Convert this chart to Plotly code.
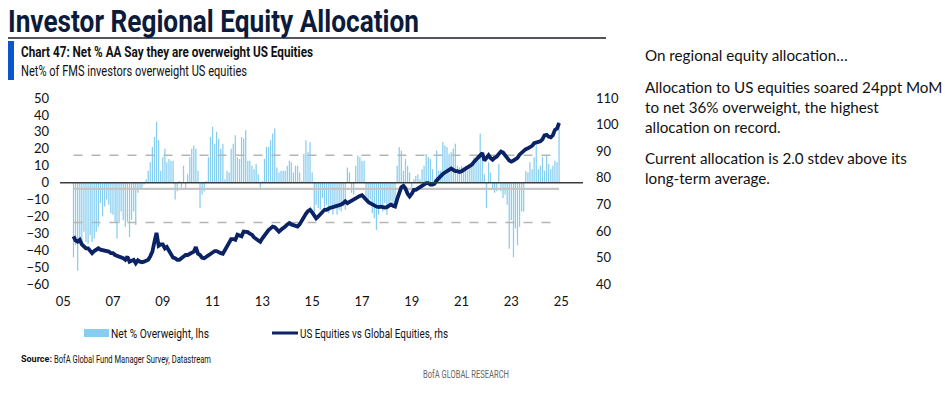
import json
import pandas as pd
import plotly.graph_objects as go

# ---------------- data ----------------
start_month = "2005-06-01"
n_months = 235
dates = pd.date_range(start_month, periods=n_months, freq="MS")

# Net % of FMS investors overweight US equities (lhs), monthly Jun-2005 .. Dec-2024
net_overweight = [
    -44, -37, -52, -34, -38, -29, -35,                      # 2005
    -36, -31, -35, -33, -29, -26, -12, -20, -14, -10, -13, -18,  # 2006
    -19, -23, -33, -24, -17, -22, -26, -23, -32, -22, -17, -25,  # 2007
    -6, -4, -3, -1, 2, 7, 12, 21, 27, 36, 25, 7,            # 2008
    15, 20, 12, 14, 13, 13, -10, -5, 1, -3, 10, -4,         # 2009
    5, 15, 20, 22, 20, 7, -15, -7, -5, 1, 15, 27,           # 2010
    33, 23, 30, 26, 20, 23, 2, 7, 6, 20, 23, 28,            # 2011
    15, 14, 27, 26, 31, 13, 13, 10, 8, 11, 5, -3,           # 2012
    1, 14, 21, 21, 25, 29, 32, 9, 6, 7, 7, 7,               # 2013
    10, 13, 12, 6, 10, 10, 6, 1, 17, 25, 18, 24,            # 2014
    6, -18, -13, -15, -16, -9, -15, -13, -18, -13, -19, -15,  # 2015
    -19, -16, -17, -14, -16, 9, 6, -6, -7, 10, 16, 15,      # 2016
    13, 13, -10, -13, -10, -18, -21, -28, -19, -13, -17, -12,  # 2017
    -19, -14, -11, -15, -13, 10, 21, 19, 7, 14, 10, 6,      # 2018
    -3, 2, 4, 5, 2, 8, 10, 17, 15, 14, 8, 2,                # 2019
    19, 7, 7, 24, 22, 21, 17, 18, 20, 23, 10, 9,            # 2020
    10, 9, 10, 7, 10, 12, 15, 14, 13, 29, 13, 5,            # 2021
    -15, 12, 6, -4, -6, -5, 11, -5, -9, -7, -13, -39,       # 2022
    -22, -44, -27, -37, -26, -17, -17, 7, 6, 12, 8, 15,     # 2023
    22, 8, 10, 15, 7, 16, 11, 8, 10, 13, 12, 36,            # 2024
]

# US equities vs global equities relative index (rhs)
us_vs_global = [
    58, 56.5, 56, 56.7, 55, 54.2, 53.5,
    53.5, 52.5, 51.7, 52.5, 53, 53.5, 53, 52.9, 52.5, 52.5, 52.3, 51.7,
    51.7, 51, 50.8, 50.4, 50, 49.8, 49.2, 50.4, 48.5, 48.8, 49.2, 47.9,
    49, 48.5, 48.3, 48.5, 49, 49.2, 50.5, 52.3, 56, 59.3, 54.5, 55,
    55, 53.5, 54, 52.5, 51.5, 50, 49.8, 49.2, 49.2, 49.8, 50.5, 51,
    51, 51.5, 52, 52.3, 54, 51.5, 51, 50, 49.8, 50.4, 50.8, 51.5,
    52, 52.5, 52.5, 52, 51.7, 51.5, 52.9, 54, 55.4, 57, 57, 56.7,
    58.6, 58.2, 58, 59.8, 59.7, 59.6, 59, 58.6, 57.6, 57, 56.3, 56,
    57.3, 58.5, 59.2, 60.4, 61, 61.7, 61.5, 60.4, 59.8, 60.5, 61, 61.7,
    62.5, 63, 62.5, 62.3, 62, 61.7, 62.5, 64, 65, 66.5, 67.5, 68,
    67, 66, 64.8, 65.5, 66.5, 67.3, 68, 68, 68.6, 68.8, 69, 69.2,
    69.5, 69.8, 70, 70.5, 71.2, 70.5, 71, 71.5, 72, 72.4, 73, 73.2,
    73.5, 72.5, 71.7, 71, 70.5, 70, 69.5, 69.2, 69, 69.2, 69, 68.8,
    69, 69.5, 70, 69.5, 69.2, 72, 74, 76.5, 77, 76, 74, 73,
    74, 75.5, 75.5, 76, 76.5, 77, 77.5, 78, 78, 77.5, 77.5, 77.8,
    79, 80, 81, 81.5, 82, 82.5, 83, 83.5, 83, 82.5, 82.5, 82.2,
    82.5, 83, 83.5, 84, 84.3, 85, 86, 86.8, 87.5, 88.5, 89.3, 86.5,
    87.5, 88.5, 87.5, 86.8, 87.5, 88, 89, 89.9, 89.5, 88.7, 87.5, 86.5,
    86.1, 86.5, 86.8, 87.5, 88.7, 89.5, 90.5, 90.8, 91.1, 91.5, 92, 93,
    93.1, 93.5, 93.7, 94.5, 96, 96.2, 95.5, 95.2, 96, 98, 98.5, 100.6,
]

long_term_avg = -3.6
upper_band = 16.2
lower_band = -23.5

x_tick_vals = ["2005-01-01", "2007-01-01", "2009-01-01", "2011-01-01", "2013-01-01",
               "2015-01-01", "2017-01-01", "2019-01-01", "2021-01-01", "2023-01-01", "2025-01-01"]
x_tick_text = ["05", "07", "09", "11", "13", "15", "17", "19", "21", "23", "25"]
lhs_ticks = [-60, -50, -40, -30, -20, -10, 0, 10, 20, 30, 40, 50]
rhs_ticks = [40, 50, 60, 70, 80, 90, 100, 110]

# ---------------- styling ----------------
W, H = 945, 397
def px(x):
    return x / W
def py(y):
    return 1 - y / H

HEAD = "Roboto, Liberation Sans, sans-serif"
BODY = "Lato, Open Sans, sans-serif"
NAVY = "#0b2265"
BAR = "#86cdf0"

fig = go.Figure()
fig.add_trace(go.Bar(x=dates, y=net_overweight, marker_color=BAR,
                     marker_line_width=0, showlegend=False, hoverinfo="skip"))
band_x = [dates[0], dates[-1]]
fig.add_trace(go.Scatter(x=band_x, y=[upper_band, upper_band], mode="lines",
                         line=dict(color="#b5b5b5", width=1.3, dash="dash"), showlegend=False))
fig.add_trace(go.Scatter(x=band_x, y=[lower_band, lower_band], mode="lines",
                         line=dict(color="#b5b5b5", width=1.3, dash="dash"), showlegend=False))
fig.add_trace(go.Scatter(x=band_x, y=[long_term_avg, long_term_avg], mode="lines",
                         line=dict(color="#c4c4c4", width=2.2), showlegend=False))
fig.add_trace(go.Scatter(x=dates, y=us_vs_global, yaxis="y2", mode="lines",
                         line=dict(color=NAVY, width=3.8), showlegend=False))

tickfont = dict(family=BODY, size=13, color="#111")
fig.update_layout(
    template="none",
    width=W, height=H, autosize=False,
    margin=dict(l=0, r=0, t=0, b=0, pad=0, autoexpand=False),
    paper_bgcolor="white", plot_bgcolor="white",
    showlegend=False,
    bargap=0.35,
    xaxis=dict(domain=[px(60), px(583)], type="date", automargin=False,
               range=["2004-11-15", "2025-11-17"],
               tickvals=x_tick_vals, ticktext=x_tick_text,
               showgrid=False, zeroline=False, showline=False, ticks="",
               tickfont=tickfont, ticklabelstandoff=8),
    yaxis=dict(domain=[py(284.3), py(98)], range=[-60, 50], automargin=False,
               tickvals=lhs_ticks, showgrid=False, zeroline=False, showline=False,
               ticks="", tickfont=tickfont, ticklabelstandoff=10),
    yaxis2=dict(overlaying="y", side="right", range=[40, 110], tickvals=rhs_ticks,
                automargin=False,
                showgrid=False, zeroline=False, showline=False, ticks="",
                tickfont=tickfont, ticklabelstandoff=12),
)

shapes = [
    dict(type="line", xref="paper", yref="y", x0=px(60), x1=px(583), y0=0, y1=0,
         line=dict(color="#3c3c3c", width=1.6), layer="above"),
    dict(type="line", xref="paper", yref="paper", x0=px(8), x1=px(606), y0=py(38), y1=py(38),
         line=dict(color="#1b1b2b", width=1.5)),
    dict(type="rect", xref="paper", yref="paper", x0=px(8), x1=px(14), y0=py(80), y1=py(41),
         fillcolor="#0a55c9", line=dict(width=0)),
    dict(type="rect", xref="paper", yref="paper", x0=px(84), x1=px(109), y0=py(337), y1=py(329),
         fillcolor=BAR, line=dict(width=0)),
    dict(type="line", xref="paper", yref="paper", x0=px(272), x1=px(298), y0=py(333), y1=py(333),
         line=dict(color=NAVY, width=3)),
]
fig.update_layout(shapes=shapes)

fit_widths = {}   # annotation index -> rendered width in px (condensed look)

def note(text, x, y, size, family, color="#111", weight="normal", fit=None):
    idx = len(fig.layout.annotations)
    fig.add_annotation(text=text, xref="paper", yref="paper", x=px(x - 1), y=py(y),
                       xanchor="left", yanchor="middle", align="left", showarrow=False,
                       borderpad=0, borderwidth=0,
                       font=dict(family=family, size=size, color=color, weight=weight))
    if fit:
        fit_widths[str(idx)] = fit

note("Investor Regional Equity Allocation", 9, 22, 31, HEAD, color="#0c1b3a", weight="bold", fit=411)
note("Chart 47: Net % AA Say they are overweight US Equities", 22, 53, 14.5, HEAD, weight="bold", fit=292)
note("Net% of FMS investors overweight US equities", 22, 71, 14.5, HEAD, fit=226)
note("Net % Overweight, lhs", 112, 333, 13.5, HEAD, fit=98)
note("US Equities vs Global Equities, rhs", 301, 333, 13.5, HEAD, fit=148)
note("Source:", 22, 359, 9, HEAD, weight="bold")
note("BofA Global Fund Manager Survey, Datastream", 55, 359, 10.5, HEAD, fit=157)
note("BofA GLOBAL RESEARCH", 424, 374, 10.5, HEAD, color="#666", fit=86)

note("On regional equity allocation…", 646, 55, 15.2, BODY)
note("Allocation to US equities soared 24ppt MoM", 646, 87, 15.2, BODY)
note("to net 36% overweight, the highest", 646, 107, 15.2, BODY)
note("allocation on record.", 646, 127, 15.2, BODY)
note("Current allocation is 2.0 stdev above its", 646, 158, 15.2, BODY)
note("long-term average.", 646, 178, 15.2, BODY)

post = """
document.body.style.margin = '0';
var fits = %s;
var gd = document.getElementById('{plot_id}');
gd.querySelectorAll('g.annotation').forEach(function(g){
  var i = g.getAttribute('data-index');
  if (fits[i] !== undefined) {
    var t = g.querySelector('text.annotation-text');
    if (t) {
      t.setAttribute('textLength', fits[i]);
      t.setAttribute('lengthAdjust', 'spacingAndGlyphs');
    }
  }
});
""" % json.dumps(fit_widths)

fig.write_html("out.html", post_script=post,
               config={"displayModeBar": False, "staticPlot": True, "responsive": False})
